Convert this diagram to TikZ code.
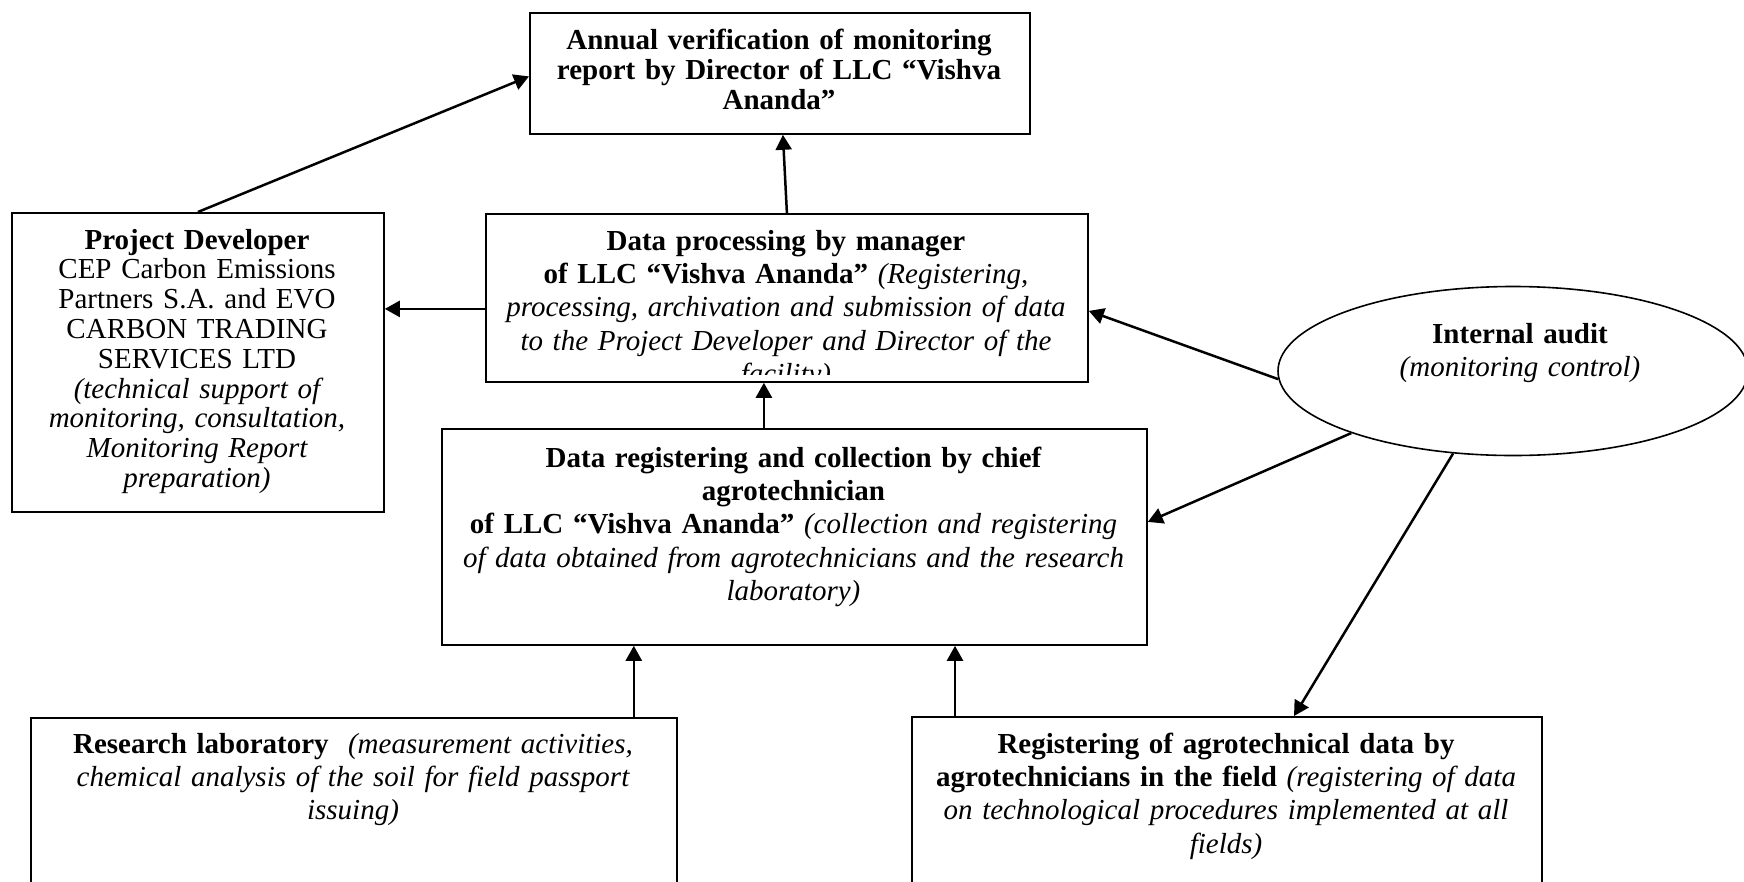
\documentclass[tikz,border=0pt]{standalone}
\usepackage{fontspec}
\setmainfont{Liberation Serif}
\usetikzlibrary{arrows.meta,calc,shapes.geometric}
\begin{document}
\begin{tikzpicture}[x=1pt,y=-1pt,
  box/.style={draw,line width=1.8pt,inner sep=0pt,anchor=north west},
  txt/.style={anchor=north,inner sep=0pt,align=center,font=\fontsize{29}{33.3}\selectfont},
  arr/.style={line width=2.5pt,-{Triangle[length=15pt,width=16pt]}}
]
\useasboundingbox (0,0) rectangle (1744,881);
\fill[white] (0,0) rectangle (1744,881);

% boxes
\node[box,minimum width=500pt,minimum height=121pt] (top) at (529,12) {};
\node[box,minimum width=372pt,minimum height=299pt] (pd) at (11,212) {};
\node[box,minimum width=602pt,minimum height=168pt] (mgr) at (485,213) {};
\node[box,minimum width=705pt,minimum height=216pt] (col) at (441,428) {};
\node[box,minimum width=646pt,minimum height=200pt] (res) at (30,717) {};
\node[box,minimum width=630pt,minimum height=200pt] (reg) at (911,716) {};
\node[draw,ellipse,line width=1.6pt,inner sep=0pt,minimum width=470pt,minimum height=169pt] (aud) at (1513,371) {};

% texts
\node[txt,text width=498pt,font=\fontsize{29}{30}\selectfont] (toptext) at (779,28.5)
 {\strut\textbf{Annual verification of monitoring\\ report by Director of LLC “Vishva\\ Ananda”}};
\node[txt,text width=370pt,font=\fontsize{29}{29.8}\selectfont] (pdtext) at (197,228.1)
 {\strut\textbf{Project Developer}\\ CEP Carbon Emissions\\ Partners S.A. and EVO\\ CARBON TRADING\\ SERVICES LTD\\ \textit{(technical support of\\ monitoring, consultation,\\ Monitoring Report\\ preparation)}};
\begin{scope}
\clip (mgr.north west) rectangle ($(mgr.south east)+(0,-8)$);
\node[txt,text width=600pt] (mgrtext) at (786,226.7)
 {\strut\textbf{Data processing by manager\\ of LLC “Vishva Ananda”} \textit{(Registering,\\ processing, archivation and submission of data\\ to the Project Developer and Director of the\\ facility)}};
\end{scope}
\node[txt,text width=703pt] (coltext) at (793.5,443.7)
 {\strut\textbf{Data registering and collection by chief\\ agrotechnician\\ of LLC “Vishva Ananda”} \textit{(collection and registering\\ of data obtained from agrotechnicians and the research\\ laboratory)}};
\node[txt,text width=640pt] (restext) at (353,729.7)
 {\strut\textbf{Research laboratory}\ \ \textit{(measurement activities,\\ chemical analysis of the soil for field passport\\ issuing)}};
\node[txt,text width=626pt] (regtext) at (1226,729.7)
 {\strut\textbf{Registering of agrotechnical data by\\ agrotechnicians in the field} \textit{(registering of data\\ on technological procedures implemented at all\\ fields)}};
\node[txt,text width=300pt] (audtext) at (1520,319.7)
 {\strut\textbf{Internal audit}\\ \textit{(monitoring control)}};

% connectors
\draw[arr] (pd.north) -- ($(top.west)+(0,3)$);
\draw[arr] (mgr.north) -- ($(top.south)+(3,0)$);
\coordinate (m1) at ($(mgr.west)+(0,11)$);
\draw[arr] (m1) -- (m1 -| pd.east);
\coordinate (c1) at ($(col.north)+(-30.5,0)$);
\draw[arr] (c1) -- (c1 |- mgr.south);
\coordinate (r1) at ($(res.north east)+(-44,0)$);
\draw[arr] (r1) -- (r1 |- col.south);
\coordinate (g1) at ($(reg.north west)+(44,0)$);
\draw[arr] (g1) -- (g1 |- col.south);
\draw[arr] (aud.182) -- ($(mgr.east)+(0,13)$);
\draw[arr] (aud.201) -- ($(col.east)+(0,-15)$);
\draw[arr] (aud.234) -- ($(reg.north west)+(383,0)$);
\end{tikzpicture}
\end{document}
